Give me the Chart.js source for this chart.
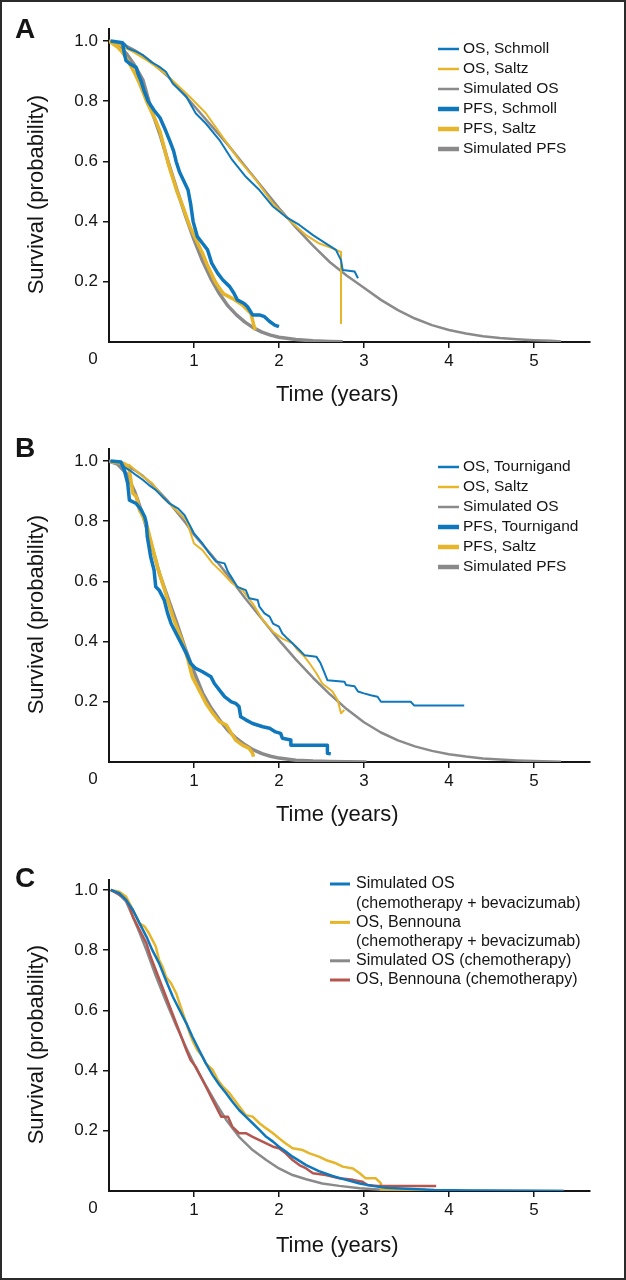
<!DOCTYPE html>
<html>
<head>
<meta charset="utf-8">
<script src="https://cdn.jsdelivr.net/npm/chart.js@4.4.1/dist/chart.umd.min.js"></script>
<style>
  body { margin: 0; background: #fff; }
  #page { position: relative; width: 626px; height: 1280px; overflow: hidden; background: #fff; }
  #page canvas { position: absolute; left: 0; }
  #frame { position: absolute; left: 0; top: 0; width: 626px; height: 1280px; box-sizing: border-box; border: 2px solid #2b2b2b; pointer-events: none; }
</style>
</head>
<body>
<div id="page">
  <canvas id="panelA" width="626" height="420" style="top:0"></canvas>
  <canvas id="panelB" width="626" height="420" style="top:420px"></canvas>
  <canvas id="panelC" width="626" height="440" style="top:840px"></canvas>
  <div id="frame"></div>
</div>
<script>
// tick values
const timeTicks = [1, 2, 3, 4, 5];
const survivalTicks = [0.2, 0.4, 0.6, 0.8, 1.0];

// panel A : [time (years), survival]
const labelsA = ['OS, Schmoll', 'OS, Saltz', 'Simulated OS', 'PFS, Schmoll', 'PFS, Saltz', 'Simulated PFS'];
const osSchmoll = [[0.02,1.0],[0.18,0.992],[0.22,0.976],[0.32,0.965],[0.40,0.953],[0.50,0.93],[0.59,0.915],[0.67,0.898],[0.75,0.859],[0.91,0.815],[1.02,0.76],[1.14,0.726],[1.30,0.671],[1.45,0.605],[1.61,0.549],[1.77,0.505],[1.93,0.45],[2.08,0.416],[2.24,0.389],[2.40,0.355],[2.55,0.328],[2.67,0.306],[2.73,0.272],[2.75,0.239],[2.89,0.234],[2.93,0.212]];
const osSaltzA = [[0.0,1.0],[0.1,0.99],[0.28,0.965],[0.48,0.93],[0.67,0.89],[0.95,0.815],[1.14,0.76],[1.34,0.68],[1.53,0.605],[1.73,0.538],[1.93,0.46],[2.12,0.405],[2.32,0.355],[2.47,0.328],[2.63,0.311],[2.72,0.30],[2.73,0.30],[2.73,0.062]];
const simOsA = [[0,1.0],[0.1,0.995],[0.2,0.985],[0.3,0.97],[0.4,0.952],[0.5,0.93],[0.6,0.905],[0.7,0.88],[0.8,0.85],[0.9,0.818],[1.0,0.785],[1.2,0.72],[1.4,0.655],[1.6,0.585],[1.8,0.515],[2.0,0.445],[2.2,0.38],[2.4,0.32],[2.6,0.265],[2.8,0.22],[3.0,0.18],[3.2,0.14],[3.4,0.106],[3.6,0.078],[3.8,0.056],[4.0,0.04],[4.2,0.028],[4.4,0.019],[4.6,0.013],[4.8,0.009],[5.0,0.006],[5.2,0.004],[5.32,0.002]];
const pfsSchmoll = [[0.02,1.0],[0.16,0.994],[0.18,0.96],[0.20,0.935],[0.26,0.922],[0.32,0.912],[0.34,0.893],[0.38,0.865],[0.41,0.837],[0.46,0.80],[0.53,0.77],[0.60,0.745],[0.67,0.70],[0.72,0.665],[0.76,0.635],[0.79,0.60],[0.83,0.565],[0.88,0.535],[0.93,0.505],[0.96,0.46],[0.99,0.40],[1.04,0.35],[1.10,0.328],[1.16,0.306],[1.21,0.261],[1.28,0.228],[1.34,0.206],[1.42,0.184],[1.47,0.162],[1.51,0.14],[1.59,0.128],[1.63,0.117],[1.69,0.09],[1.77,0.09],[1.83,0.084],[1.89,0.068],[1.95,0.056],[2.00,0.051]];
const pfsSaltzA = [[0,1.0],[0.05,0.99],[0.1,0.98],[0.15,0.965],[0.2,0.945],[0.25,0.92],[0.3,0.895],[0.35,0.865],[0.4,0.83],[0.45,0.795],[0.5,0.765],[0.55,0.735],[0.6,0.70],[0.65,0.645],[0.7,0.59],[0.75,0.545],[0.8,0.50],[0.85,0.465],[0.9,0.425],[0.95,0.385],[1.0,0.355],[1.05,0.325],[1.1,0.295],[1.15,0.26],[1.2,0.23],[1.25,0.20],[1.3,0.178],[1.35,0.16],[1.45,0.145],[1.57,0.123],[1.67,0.095],[1.70,0.06],[1.72,0.04]];
const simPfsA = [[0,1.0],[0.1,0.99],[0.2,0.96],[0.3,0.92],[0.4,0.87],[0.5,0.77],[0.6,0.69],[0.7,0.595],[0.8,0.505],[0.9,0.42],[1.0,0.34],[1.1,0.27],[1.2,0.21],[1.3,0.16],[1.4,0.12],[1.5,0.09],[1.6,0.066],[1.7,0.047],[1.8,0.033],[1.9,0.023],[2.0,0.016],[2.2,0.008],[2.4,0.004],[2.6,0.002],[2.75,0.001]];

// panel B
const labelsB = ['OS, Tournigand', 'OS, Saltz', 'Simulated OS', 'PFS, Tournigand', 'PFS, Saltz', 'Simulated PFS'];
const osTournigand = [[0.02,1.0],[0.14,0.997],[0.18,0.98],[0.24,0.97],[0.32,0.953],[0.40,0.937],[0.47,0.92],[0.55,0.904],[0.63,0.881],[0.71,0.859],[0.81,0.843],[0.89,0.82],[0.93,0.798],[1.0,0.76],[1.10,0.726],[1.18,0.693],[1.26,0.666],[1.36,0.66],[1.40,0.632],[1.45,0.61],[1.51,0.582],[1.61,0.571],[1.65,0.544],[1.75,0.538],[1.77,0.516],[1.83,0.494],[1.89,0.483],[1.93,0.46],[2.00,0.45],[2.04,0.427],[2.10,0.41],[2.18,0.389],[2.24,0.372],[2.30,0.355],[2.44,0.35],[2.49,0.328],[2.53,0.30],[2.57,0.272],[2.77,0.267],[2.79,0.256],[2.89,0.252],[2.93,0.234],[3.0,0.228],[3.08,0.222],[3.16,0.217],[3.20,0.20],[3.55,0.20],[3.59,0.188],[4.18,0.188]];
const osSaltzB = [[0.02,0.998],[0.16,0.992],[0.24,0.987],[0.40,0.948],[0.51,0.926],[0.63,0.88],[0.75,0.848],[0.91,0.804],[1.0,0.726],[1.10,0.704],[1.22,0.66],[1.34,0.627],[1.45,0.594],[1.57,0.571],[1.69,0.527],[1.81,0.472],[1.93,0.433],[2.04,0.41],[2.16,0.394],[2.22,0.372],[2.30,0.35],[2.36,0.328],[2.44,0.295],[2.51,0.261],[2.63,0.234],[2.69,0.206],[2.73,0.162],[2.77,0.173]];
const simOsB = [[0,1.0],[0.1,0.995],[0.2,0.985],[0.3,0.97],[0.4,0.95],[0.5,0.925],[0.6,0.895],[0.7,0.865],[0.8,0.83],[0.9,0.795],[1.0,0.755],[1.2,0.69],[1.4,0.62],[1.6,0.545],[1.8,0.475],[2.0,0.405],[2.2,0.34],[2.4,0.28],[2.6,0.225],[2.8,0.175],[3.0,0.132],[3.2,0.098],[3.4,0.072],[3.6,0.052],[3.8,0.037],[4.0,0.026],[4.2,0.018],[4.4,0.012],[4.6,0.008],[4.8,0.005],[5.0,0.003],[5.32,0.001]];
const pfsTournigand = [[0.02,1.0],[0.14,0.997],[0.18,0.97],[0.22,0.926],[0.24,0.87],[0.32,0.859],[0.38,0.837],[0.42,0.815],[0.44,0.793],[0.45,0.749],[0.49,0.682],[0.53,0.638],[0.55,0.582],[0.59,0.571],[0.65,0.538],[0.69,0.494],[0.73,0.46],[0.79,0.427],[0.85,0.394],[0.91,0.361],[0.96,0.328],[1.02,0.311],[1.10,0.30],[1.20,0.283],[1.24,0.261],[1.30,0.239],[1.36,0.217],[1.44,0.20],[1.49,0.195],[1.53,0.184],[1.55,0.15],[1.61,0.14],[1.69,0.128],[1.81,0.117],[1.89,0.112],[1.96,0.10],[2.02,0.095],[2.04,0.079],[2.14,0.073],[2.14,0.056],[2.57,0.056],[2.57,0.029],[2.61,0.027]];
const pfsSaltzB = [[0.02,0.998],[0.18,0.992],[0.24,0.97],[0.28,0.893],[0.32,0.882],[0.36,0.837],[0.40,0.815],[0.45,0.782],[0.51,0.715],[0.57,0.649],[0.63,0.594],[0.69,0.538],[0.75,0.483],[0.81,0.439],[0.87,0.394],[0.93,0.339],[0.98,0.283],[1.06,0.239],[1.14,0.195],[1.22,0.162],[1.30,0.134],[1.38,0.123],[1.44,0.095],[1.49,0.073],[1.57,0.056],[1.65,0.045],[1.69,0.029],[1.70,0.018]];
const simPfsB = [[0,1.0],[0.1,0.99],[0.2,0.96],[0.3,0.9],[0.4,0.82],[0.5,0.72],[0.6,0.62],[0.7,0.54],[0.8,0.46],[0.9,0.375],[1.0,0.30],[1.1,0.23],[1.2,0.18],[1.3,0.14],[1.4,0.105],[1.5,0.078],[1.6,0.057],[1.7,0.04],[1.8,0.028],[1.9,0.019],[2.0,0.013],[2.2,0.006],[2.4,0.003],[2.6,0.0015],[2.8,0.0008],[3.03,0]];

// panel C
const labelsC = ['Simulated OS\n(chemotherapy + bevacizumab)', 'OS, Bennouna\n(chemotherapy + bevacizumab)', 'Simulated OS (chemotherapy)', 'OS, Bennouna (chemotherapy)'];
const simOsBev = [[0.02,1.0],[0.12,0.989],[0.2,0.967],[0.28,0.934],[0.36,0.889],[0.44,0.845],[0.51,0.80],[0.59,0.756],[0.67,0.70],[0.75,0.646],[0.83,0.601],[0.91,0.557],[0.98,0.513],[1.06,0.468],[1.14,0.424],[1.22,0.385],[1.30,0.352],[1.38,0.324],[1.45,0.297],[1.53,0.269],[1.61,0.247],[1.69,0.225],[1.77,0.203],[1.85,0.18],[1.93,0.164],[2.0,0.147],[2.08,0.131],[2.16,0.114],[2.24,0.10],[2.32,0.086],[2.47,0.066],[2.63,0.05],[2.79,0.037],[2.95,0.025],[3.10,0.017],[3.26,0.011],[3.44,0.008],[3.83,0.0035],[4.22,0.002],[4.8,0.001],[5.35,0]];
const osBennounaBev = [[0.02,1.0],[0.12,0.994],[0.2,0.978],[0.24,0.956],[0.28,0.934],[0.36,0.889],[0.42,0.878],[0.47,0.856],[0.51,0.834],[0.55,0.812],[0.59,0.767],[0.63,0.745],[0.67,0.712],[0.73,0.69],[0.79,0.657],[0.83,0.623],[0.87,0.59],[0.91,0.557],[0.95,0.524],[0.98,0.502],[1.04,0.468],[1.10,0.446],[1.14,0.424],[1.22,0.402],[1.28,0.369],[1.34,0.347],[1.42,0.324],[1.49,0.297],[1.55,0.275],[1.61,0.252],[1.69,0.247],[1.77,0.225],[1.85,0.208],[1.93,0.192],[2.0,0.175],[2.08,0.158],[2.16,0.142],[2.28,0.136],[2.36,0.125],[2.47,0.114],[2.55,0.103],[2.67,0.092],[2.75,0.081],[2.87,0.075],[2.95,0.059],[3.02,0.042],[3.14,0.042],[3.2,0.025],[3.2,0.006],[3.72,0.005]];
const simOsChemo = [[0.02,1.0],[0.1,0.99],[0.2,0.962],[0.28,0.912],[0.36,0.858],[0.44,0.80],[0.55,0.715],[0.67,0.63],[0.79,0.55],[0.91,0.475],[1.02,0.41],[1.14,0.35],[1.26,0.291],[1.38,0.236],[1.53,0.18],[1.69,0.136],[1.85,0.103],[2.0,0.075],[2.16,0.053],[2.32,0.039],[2.51,0.025],[2.71,0.017],[2.95,0.009],[3.26,0.003],[3.6,0.0015],[4.2,0.0005],[5.35,0]];
const osBennounaChemo = [[0.02,1.0],[0.16,0.978],[0.2,0.967],[0.24,0.945],[0.28,0.911],[0.32,0.889],[0.36,0.867],[0.40,0.845],[0.44,0.823],[0.49,0.778],[0.55,0.734],[0.61,0.69],[0.67,0.646],[0.73,0.601],[0.79,0.557],[0.85,0.513],[0.91,0.468],[0.96,0.435],[1.02,0.413],[1.08,0.38],[1.14,0.347],[1.20,0.313],[1.26,0.28],[1.32,0.247],[1.40,0.247],[1.45,0.214],[1.53,0.192],[1.61,0.192],[1.69,0.18],[1.77,0.169],[1.85,0.158],[1.93,0.147],[2.0,0.142],[2.08,0.125],[2.16,0.103],[2.24,0.086],[2.32,0.075],[2.40,0.059],[2.55,0.053],[2.71,0.042],[2.87,0.037],[2.98,0.031],[3.04,0.02],[3.16,0.017],[3.85,0.017]];

const FONT = '"Liberation Sans", Arial, sans-serif';
const INK = '#151515';
const BLUE = '#0f78bd';
const YELLOW = '#e6b52a';
const GRAY = '#8a8a8a';
const RED = '#b4554e';

function curve(label, rows, color, width, legendWidth, order) {
    return {
        label: label,
        data: rows.map(r => ({ x: r[0], y: r[1] })),
        borderColor: color,
        borderWidth: width,
        legendWidth: legendWidth,
        order: order,
        pointRadius: 0,
        fill: false,
        tension: 0,
        borderJoinStyle: 'round'
    };
}

// panel letter, the corner "0" and the legend
const panelDecor = {
    id: 'panelDecor',
    afterDraw(chart, args, opts) {
        const ctx = chart.ctx;
        ctx.save();
        ctx.fillStyle = INK;
        ctx.textAlign = 'left';
        ctx.textBaseline = 'alphabetic';
        ctx.font = 'bold 28px ' + FONT;
        ctx.fillText(opts.letter, 15, opts.letterY);

        ctx.font = '17px ' + FONT;
        ctx.textAlign = 'center';
        ctx.textBaseline = 'top';
        ctx.fillText('0', 93, chart.chartArea.bottom + 9);

        ctx.textAlign = 'left';
        ctx.textBaseline = 'middle';
        ctx.font = opts.legendFont;
        let y = opts.legendY;
        chart.data.datasets.forEach(ds => {
            ctx.strokeStyle = ds.borderColor;
            ctx.lineWidth = ds.legendWidth;
            ctx.beginPath();
            ctx.moveTo(opts.legendX, y);
            ctx.lineTo(opts.legendX + opts.lineLen, y);
            ctx.stroke();
            ds.label.split('\n').forEach(line => {
                ctx.fillText(line, opts.legendX + opts.lineLen + opts.gap, y);
                y += opts.rowH;
            });
        });
        ctx.restore();
    }
};

function makePanel(id, datasets, cfg) {
    const tickFont = { family: FONT, size: 17 };
    const titleFont = { family: FONT, size: 22 };
    return new Chart(document.getElementById(id), {
        type: 'line',
        data: { datasets: datasets },
        options: {
            responsive: false,
            animation: false,
            devicePixelRatio: 1,
            events: [],
            layout: { padding: { left: 0, right: 36, top: cfg.top, bottom: 0 } },
            plugins: {
                legend: { display: false },
                tooltip: { enabled: false },
                panelDecor: cfg.decor
            },
            scales: {
                x: {
                    type: 'linear',
                    min: 0,
                    max: 5.66,
                    afterFit: s => { s.height = cfg.xHeight; },
                    afterBuildTicks: s => { s.ticks = timeTicks.map(v => ({ value: v })); },
                    border: { color: INK, width: 2 },
                    grid: { drawOnChartArea: false, tickLength: 6, lineWidth: 1.5, color: INK },
                    ticks: { font: tickFont, color: INK, padding: 3, maxRotation: 0, autoSkip: false, callback: v => String(v) },
                    title: { display: true, text: 'Time (years)\u00a0\u00a0\u00a0\u00a0', font: titleFont, color: INK, padding: { top: 0, bottom: cfg.xTitlePad } }
                },
                y: {
                    min: 0,
                    max: cfg.yMax,
                    afterFit: s => { s.width = 109; },
                    afterBuildTicks: s => { s.ticks = survivalTicks.map(v => ({ value: v })); },
                    border: { color: INK, width: 2 },
                    grid: { drawOnChartArea: false, tickLength: 6, lineWidth: 1.5, color: INK },
                    ticks: { font: tickFont, color: INK, padding: 5, autoSkip: false, callback: v => v.toFixed(1) },
                    title: { display: true, text: 'Survival (probability)\u00a0\u00a0\u00a0', font: titleFont, color: INK, padding: { top: 24, bottom: 0 } }
                }
            }
        },
        plugins: [panelDecor]
    });
}

makePanel('panelA', [
    curve(labelsA[0], osSchmoll, BLUE, 2, 2.5, 1),
    curve(labelsA[1], osSaltzA, YELLOW, 2, 2.5, 3),
    curve(labelsA[2], simOsA, GRAY, 2.5, 2.5, 5),
    curve(labelsA[3], pfsSchmoll, BLUE, 3.5, 4.5, 2),
    curve(labelsA[4], pfsSaltzA, YELLOW, 3.5, 4.5, 4),
    curve(labelsA[5], simPfsA, GRAY, 3.5, 4.5, 6)
], {
    top: 29, yMax: 1.04, xHeight: 78, xTitlePad: 12,
    decor: { letter: 'A', letterY: 38, legendX: 438, lineLen: 21, gap: 4, legendY: 49, rowH: 20, legendFont: '15.5px ' + FONT }
});

makePanel('panelB', [
    curve(labelsB[0], osTournigand, BLUE, 2, 2.5, 1),
    curve(labelsB[1], osSaltzB, YELLOW, 2, 2.5, 3),
    curve(labelsB[2], simOsB, GRAY, 2.5, 2.5, 5),
    curve(labelsB[3], pfsTournigand, BLUE, 3.5, 4.5, 2),
    curve(labelsB[4], pfsSaltzB, YELLOW, 3.5, 4.5, 4),
    curve(labelsB[5], simPfsB, GRAY, 3.5, 4.5, 6)
], {
    top: 29, yMax: 1.04, xHeight: 78, xTitlePad: 12,
    decor: { letter: 'B', letterY: 37, legendX: 438, lineLen: 21, gap: 4, legendY: 47, rowH: 20, legendFont: '15.5px ' + FONT }
});

makePanel('panelC', [
    curve(labelsC[0], simOsBev, BLUE, 2.5, 3, 1),
    curve(labelsC[1], osBennounaBev, YELLOW, 2.5, 3, 3),
    curve(labelsC[2], simOsChemo, GRAY, 2.5, 3, 4),
    curve(labelsC[3], osBennounaChemo, RED, 2.5, 3, 2)
], {
    top: 40, yMax: 1.033, xHeight: 89, xTitlePad: 21,
    decor: { letter: 'C', letterY: 47, legendX: 330, lineLen: 20, gap: 6, legendY: 44, rowH: 19.2, legendFont: '16px ' + FONT }
});
</script>
</body>
</html>
